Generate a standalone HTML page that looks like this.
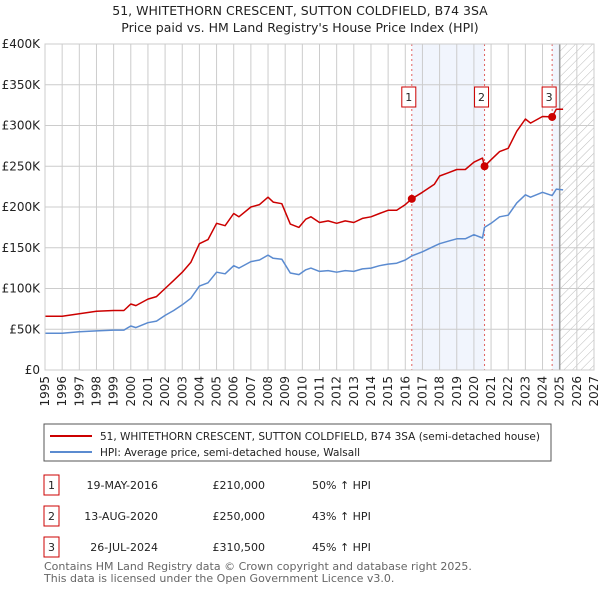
<!DOCTYPE html>
<html><head><meta charset="utf-8"><style>
body{margin:0;background:#fff;width:600px;height:590px;overflow:hidden;font-family:"Liberation Sans","DejaVu Sans",sans-serif;}
svg text{font-family:"DejaVu Sans","Liberation Sans",sans-serif;}
</style></head><body>
<svg id="c" width="600" height="590" xmlns="http://www.w3.org/2000/svg">
<defs><pattern id="hatch" width="6" height="6" patternUnits="userSpaceOnUse" patternTransform="rotate(45)"><line x1="0" y1="0" x2="0" y2="6" stroke="#bbb" stroke-width="1"/></pattern></defs>
<text x="300" y="15" text-anchor="middle" font-size="12.5" fill="#222">51, WHITETHORN CRESCENT, SUTTON COLDFIELD, B74 3SA</text>
<text x="300" y="32" text-anchor="middle" font-size="12.5" fill="#222">Price paid vs. HM Land Registry's House Price Index (HPI)</text>
<g id="plot"></g>
<rect x="44" y="424" width="507" height="37" fill="#fff" stroke="#555"/>
<line x1="50" y1="436" x2="92" y2="436" stroke="#cc0000" stroke-width="2"/>
<text x="100" y="440" font-size="10.5" fill="#222" textLength="440">51, WHITETHORN CRESCENT, SUTTON COLDFIELD, B74 3SA (semi-detached house)</text>
<line x1="50" y1="452" x2="92" y2="452" stroke="#5b8bd0" stroke-width="2"/>
<text x="100" y="456" font-size="10.5" fill="#222">HPI: Average price, semi-detached house, Walsall</text>
<g font-size="11" fill="#222">
<rect x="44" y="475" width="15" height="20" fill="#fff" stroke="#cc0000"/><text x="51.5" y="489" text-anchor="middle">1</text>
<text x="158" y="489" text-anchor="end">19-MAY-2016</text>
<text x="265" y="489" text-anchor="end">£210,000</text>
<text x="312" y="489">50% ↑ HPI</text>
<rect x="44" y="506" width="15" height="20" fill="#fff" stroke="#cc0000"/><text x="51.5" y="520" text-anchor="middle">2</text>
<text x="158" y="520" text-anchor="end">13-AUG-2020</text>
<text x="265" y="520" text-anchor="end">£250,000</text>
<text x="312" y="520">43% ↑ HPI</text>
<rect x="44" y="537" width="15" height="20" fill="#fff" stroke="#cc0000"/><text x="51.5" y="551" text-anchor="middle">3</text>
<text x="158" y="551" text-anchor="end">26-JUL-2024</text>
<text x="265" y="551" text-anchor="end">£310,500</text>
<text x="312" y="551">45% ↑ HPI</text>
</g>
<text x="44" y="570" font-size="11" fill="#666">Contains HM Land Registry data © Crown copyright and database right 2025.</text>
<text x="44" y="582" font-size="11" fill="#666">This data is licensed under the Open Government Licence v3.0.</text>
</svg>
<script>
const hpiYears=[1995,1996,1997,1998,1999,1999.6,2000,2000.3,2001,2001.5,2002,2002.5,2003,2003.5,2004,2004.5,2005,2005.5,2006,2006.3,2007,2007.5,2008,2008.3,2008.8,2009.3,2009.8,2010.2,2010.5,2011,2011.5,2012,2012.5,2013,2013.5,2014,2014.5,2015,2015.5,2016,2016.38,2017,2017.7,2018,2018.5,2019,2019.5,2020,2020.5,2020.62,2021,2021.5,2022,2022.5,2023,2023.3,2024,2024.56,2024.8,2025.2];
const hpiValues=[45,45,47,48,49,49,54,52,58,60,67,73,80,88,103,107,120,118,128,125,133,135,141,137,136,119,117,123,125,121,122,120,122,121,124,125,128,130,131,135,140,145,152,155,158,161,161,166,162,175,180,188,190,205,215,212,218,214,222,221];
const propValues=[66,66,69,72,73,73,81,79,87,90,100,110,120,132,155,160,180,177,192,188,200,203,212,206,204,179,175,185,188,181,183,180,183,181,186,188,192,196,196,203,210,218,228,238,242,246,246,255,260,250,258,268,272,293,308,303,311,310.5,320,320];
const saleYears=[2016.38,2020.62,2024.56];
const salePrices=[210,250,310.5];
const saleLabels=["1","2","3"];
const yTicks=[0,50,100,150,200,250,300,350,400];
const yTickLabels=["£0","£50K","£100K","£150K","£200K","£250K","£300K","£350K","£400K"];
const xStart=1995,xEnd=2027,forecastStart=2025;
const X=y=>45+(y-xStart)*(594-45)/(xEnd-xStart);
const Y=v=>370-v*(370-44)/400;
const NS="http://www.w3.org/2000/svg";
const g=document.getElementById('plot');
function mk(t,a){const e=document.createElementNS(NS,t);for(const k in a)e.setAttribute(k,a[k]);g.appendChild(e);return e;}
let s1=mk('rect',{x:X(saleYears[0]),y:44,width:X(saleYears[1])-X(saleYears[0]),height:326,fill:'#eef3fc',opacity:0.8});


let s2=mk('rect',{x:X(saleYears[2]),y:44,width:X(forecastStart)-X(saleYears[2]),height:326,fill:'#eef3fc',opacity:0.8});


let fc=mk('rect',{x:X(forecastStart),y:44,width:X(xEnd)-X(forecastStart),height:326,fill:'url(#hatch)'});


for(let yr=xStart;yr<=xEnd;yr++){
 const l=mk('line',{x1:X(yr),x2:X(yr),y1:44,y2:370,stroke:'#cccccc','stroke-width':1});
 
 
 const t=mk('text',{x:X(yr)+4,y:376,'font-size':12,fill:'#222','text-anchor':'end',transform:`rotate(-90 ${X(yr)+4} 376)`});
 t.textContent=yr;
 
 
}
yTicks.forEach((v,i)=>{
 const l=mk('line',{x1:45,x2:594,y1:Y(v),y2:Y(v),stroke:'#cccccc','stroke-width':1});
 
 
 const t=mk('text',{x:40,y:Y(v)+4,'font-size':12,fill:'#222','text-anchor':'end'});
 t.textContent=yTickLabels[i];
 
 
});
const fl=mk('line',{x1:X(forecastStart),x2:X(forecastStart),y1:44,y2:370,stroke:'#999','stroke-width':1.5});


saleYears.forEach((sy,i)=>{
 const l=mk('line',{x1:X(sy),x2:X(sy),y1:44,y2:370,stroke:'#e06060','stroke-width':1,'stroke-dasharray':'2,3'});
 
 
});
const pts=(vals)=>hpiYears.map((yr,i)=>X(yr).toFixed(1)+','+Y(vals[i]).toFixed(1)).join(' ');
const hl=mk('polyline',{points:pts(hpiValues),fill:'none',stroke:'#5b8bd0','stroke-width':1.5,'stroke-linejoin':'round'});


const pl=mk('polyline',{points:pts(propValues),fill:'none',stroke:'#cc0000','stroke-width':1.5,'stroke-linejoin':'round'});


saleYears.forEach((sy,i)=>{
 const c=mk('circle',{cx:X(sy),cy:Y(salePrices[i]),r:4,fill:'#cc0000'});
 
 
 const r=mk('rect',{x:X(sy)-10,y:87,width:14,height:20,fill:'#fff',stroke:'#cc0000'});
 
 
 const t=mk('text',{x:X(sy)-3,y:101,'font-size':11,fill:'#222','text-anchor':'middle'});
 t.textContent=saleLabels[i];
 
 
});
const ax=mk('rect',{x:45,y:44,width:549,height:326,fill:'none',stroke:'#cccccc'});


</script>
</body></html>
